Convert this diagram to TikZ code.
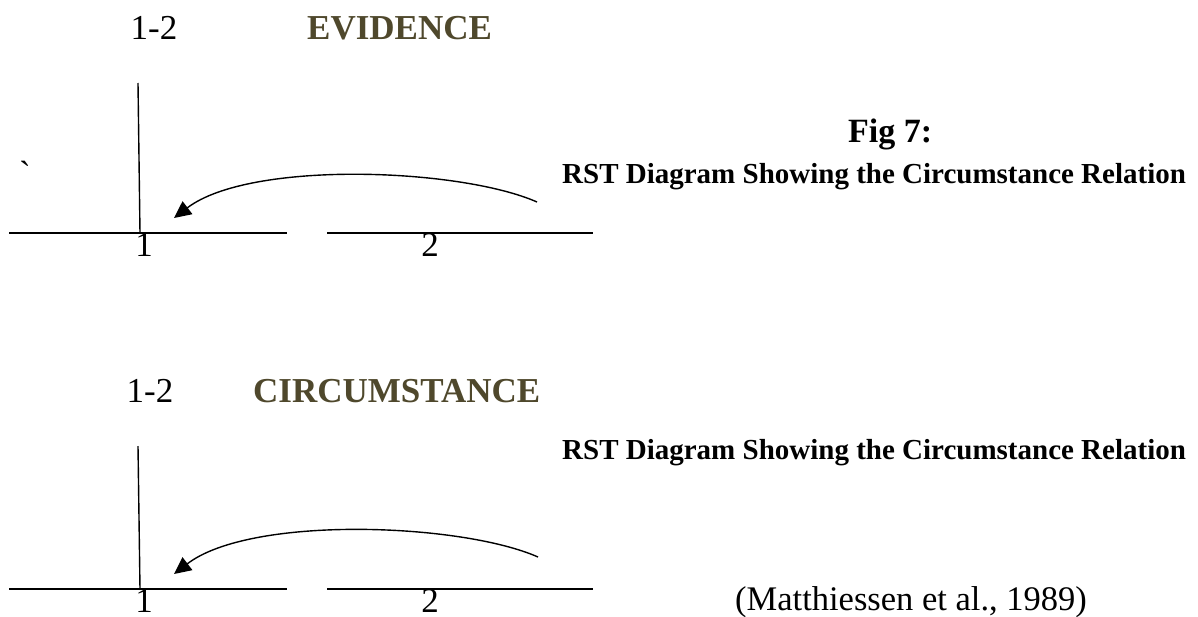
\documentclass[tikz,border=0pt]{standalone}
\usepackage{fontspec}
\setmainfont{Liberation Serif}
\newfontfamily\gravefont{Liberation Serif}
\usetikzlibrary{arrows.meta}
\definecolor{olivebrown}{RGB}{79,72,44}
\tikzset{
  lbl/.style={inner sep=0pt, anchor=base, font=\fontsize{35}{40}\selectfont},
  ttl/.style={inner sep=0pt, anchor=base west, font=\fontsize{35}{40}\selectfont\bfseries, text=olivebrown},
  captxt/.style={inner sep=0pt, anchor=base west, font=\fontsize{29}{34}\selectfont\bfseries},
  seg/.style={line width=1.4pt},
  rel/.style={line width=1.4pt, -{Triangle[length=17pt,width=16pt]}}
}
\begin{document}
\begin{tikzpicture}[x=1pt,y=-1pt]
\useasboundingbox (0,0) rectangle (1198,616);
% ---------- top diagram ----------
\node[lbl] (t12) at (154,39) {1-2};
\node[ttl] (tev) at (307,39) {EVIDENCE};
\node[inner sep=0pt, anchor=base, font=\fontsize{35}{40}\gravefont] (tick) at (25,185) {`};
\coordinate (tvt) at (138,83);
\coordinate (tvb) at (140,233);
\coordinate (ta1) at (9,233);
\coordinate (ta2) at (287,233);
\coordinate (tb1) at (327,233);
\coordinate (tb2) at (593,233);
\draw[seg] (tvt) -- (tvb);
\draw[seg] (ta1) -- (ta2);
\draw[seg] (tb1) -- (tb2);
\node[lbl] (tn1) at (144,256) {1};
\node[lbl] (tn2) at (430,256) {2};
\coordinate (tas) at (537,202);
\coordinate (tae) at (174,218);
\draw[rel] (tas) .. controls (460,168) and (250,160) .. (tae);
\node[inner sep=0pt, anchor=base west, font=\fontsize{34}{40}\selectfont\bfseries] (fig) at (848,142) {Fig 7:};
\node[captxt] (c1) at (562,183) {RST Diagram Showing the Circumstance Relation};
% ---------- bottom diagram ----------
\node[lbl] (b12) at (150,402) {1-2};
\node[ttl] (bci) at (253,402) {CIRCUMSTANCE};
\coordinate (bvt) at (138,446);
\coordinate (bvb) at (140,589);
\coordinate (ba1) at (9,589);
\coordinate (ba2) at (287,589);
\coordinate (bb1) at (327,589);
\coordinate (bb2) at (593,589);
\draw[seg] (bvt) -- (bvb);
\draw[seg] (ba1) -- (ba2);
\draw[seg] (bb1) -- (bb2);
\node[lbl] (bn1) at (144,612) {1};
\node[lbl] (bn2) at (430,612) {2};
\coordinate (bas) at (538,557);
\coordinate (bae) at (174,574);
\draw[rel] (bas) .. controls (461,523) and (251,515) .. (bae);
\node[captxt] (c2) at (562,459) {RST Diagram Showing the Circumstance Relation};
\node[inner sep=0pt, anchor=base west, font=\fontsize{34.5}{40}\selectfont] (ref) at (735,610) {(Matthiessen et al., 1989)};
\end{tikzpicture}
\end{document}
